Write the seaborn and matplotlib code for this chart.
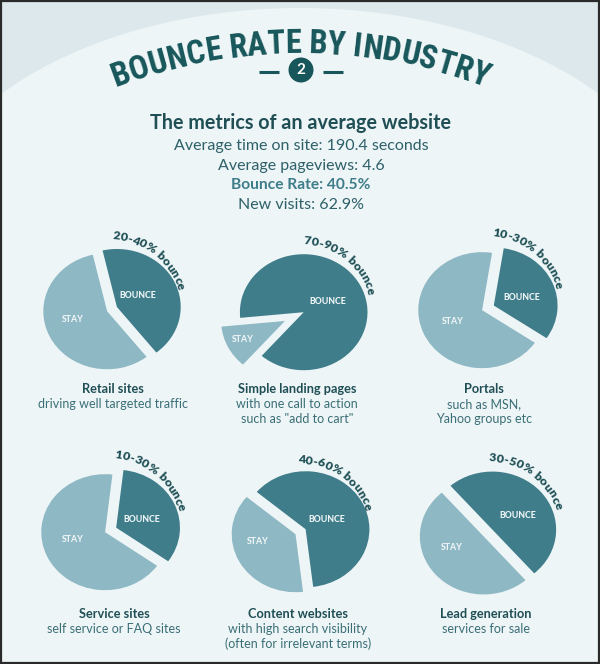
import os
import numpy as np
import pandas as pd
import seaborn as sns
import matplotlib
matplotlib.use("Agg")
import matplotlib.pyplot as plt
from matplotlib import font_manager as fm
from matplotlib.font_manager import FontProperties, findfont, get_font
from matplotlib.patches import Rectangle, Ellipse, Circle
from matplotlib.transforms import Affine2D

# ---------------- data ----------------
title = "BOUNCE RATE BY INDUSTRY"
section_number = "2"
metrics_heading = "The metrics of an average website"
metric_lines = ["Average time on site: 190.4 seconds", "Average pageviews: 4.6",
                "Bounce Rate: 40.5%", "New visits: 62.9%"]
industries = ["Retail sites", "Simple landing pages", "Portals",
              "Service sites", "Content websites", "Lead generation"]
descriptions = [["driving well targeted traffic"],
                ["with one call to action", 'such as "add to cart"'],
                ["such as MSN,", "Yahoo groups etc"],
                ["self service or FAQ sites"],
                ["with high search visibility", "(often for irrelevant terms)"],
                ["services for sale"]]
bounce_ranges = ["20-40% bounce", "70-90% bounce", "10-30% bounce",
                 "10-30% bounce", "40-60% bounce", "30-50% bounce"]
bounce_share = [0.43, 0.88, 0.32, 0.33, 0.62, 0.50]
stay_share = [0.57, 0.12, 0.68, 0.67, 0.38, 0.50]
slice_labels = ["BOUNCE", "STAY"]

# ---------------- layout / style ----------------
W, H, DPI = 600, 664, 100
PX = 72 / DPI
pie_centers = [(110, 310), (302, 313), (485, 309), (108, 531), (300, 532), (488, 533)]
start_angles = [103, 185.6, 81, 83.4, 140, 131]
explodes = [(0.12, 0.05), (0.03, 0.30), (0.15, 0.05), (0.14, 0.05), (0.10, 0.08), (0.09, 0.09)]
R_Y, SX = 58, 1.1
bounce_lbl_pos = [(138, 296), (328, 301), (522, 297), (142, 520), (327, 520), (518, 515)]
stay_lbl_pos = [(73, 320), (243, 340), (453, 321), (73, 539), (258, 542), (452, 547)]
arc_label = [(52, 70.5), (52, 68.5), (50, 73.5), (50, 73), (55, 68.5), (54, 71.5)]
caption_x = [113, 297, 484, 114, 298, 486]
caption_y0 = [389, 389, 389, 614, 614, 614]
caption_dy = 15

BOUNCE_C = "#3f7d8a"
STAY_C = "#8db8c4"
DARK = "#17565a"
TEXT_C = "#2d6068"
SUB_C = "#3a6e76"
BG_OUT = "#dce8ec"
BG_IN = "#eef5f7"

sns.set_theme(style="white")
palette = sns.color_palette([BOUNCE_C, STAY_C])
plt.rcParams["font.family"] = ["Lato", "DejaVu Sans"]


def pick_font(keys):
    files = [f.fname for f in fm.fontManager.ttflist]
    for k in keys:
        for fn in files:
            b = os.path.basename(fn).lower().replace(" ", "").replace("_", "").replace("-", "")
            if b in (k + ".ttf", k + ".otf"):
                return fn
    return None


COND = pick_font(["robotocondensedbold", "opensanscondensedbold", "opensanscondbold",
                  "liberationsansnarrowbold", "dejavusanscondensedbold"])


def cond_bold(size):
    if COND:
        return FontProperties(fname=COND, size=size)
    return FontProperties(family="Lato", weight="bold", size=size)


def advances(s, fp):
    fn = fp.get_file() or findfont(fp)
    f = get_font(fn)
    f.set_size(fp.get_size_in_points(), 72)
    out = []
    for ch in s:
        g = f.load_char(ord(ch))
        out.append(g.linearHoriAdvance / 65536 / PX)
    return np.array(out)


fig = plt.figure(figsize=(W / DPI, H / DPI), dpi=DPI)
fig.patch.set_facecolor(BG_OUT)
ax = fig.add_axes([0, 0, 1, 1])
ax.set_facecolor(BG_OUT)

# background arch
ax.add_patch(Ellipse((300, H - 250), 782, 484, facecolor=BG_IN, edgecolor="none", zorder=0))
ax.add_patch(Rectangle((0, 0), W, H - 250, facecolor=BG_IN, edgecolor="none", zorder=0))


def curved_text(s, cx, cy, r, center_deg, fp, color, z=6):
    adv = advances(s, fp)
    total = adv.sum()
    pos = np.cumsum(adv) - adv / 2
    th0 = np.deg2rad(center_deg) + (total / 2) / r
    for ch, p in zip(s, pos):
        if ch == " ":
            continue
        th = th0 - p / r
        x = cx + r * np.cos(th)
        y = (H - cy) + r * np.sin(th)
        ax.text(x, y, ch, fontproperties=fp, color=color, rotation=np.rad2deg(th) - 90,
                rotation_mode="anchor", ha="center", va="baseline", zorder=z)


# title arch
tfp = cond_bold(22)
tw = advances(title, tfp).sum()
tsize = min(26, 22 * 378 / tw)
tfp = cond_bold(tsize)
curved_text(title, 300, 567, 514, 90, tfp, DARK)

# section number badge
ax.add_patch(Circle((301, H - 70), 12.5, facecolor=DARK, edgecolor="none", zorder=5))
ax.text(301, H - 70, section_number, color="white", fontsize=11, fontweight="bold",
        ha="center", va="center", zorder=6)
ax.plot([259, 279], [H - 72, H - 72], color=DARK, lw=2.2, solid_capstyle="butt", zorder=5)
ax.plot([323, 343], [H - 72, H - 72], color=DARK, lw=2.2, solid_capstyle="butt", zorder=5)

# metrics block
ax.text(301, H - 123, metrics_heading, fontsize=14.2, fontweight="bold", color="#1f4f55",
        ha="center", va="center", zorder=6)
for i, line in enumerate(metric_lines):
    bold = line.startswith("Bounce")
    ax.text(301, H - (146 + 19.7 * i), line, fontsize=11.5 if not bold else 11.2,
            fontweight="bold" if bold else "normal",
            color="#3d7c89" if bold else TEXT_C, ha="center", va="center", zorder=6)

# pies
for k in range(6):
    cx, cy = pie_centers[k]
    cyd = H - cy
    wedges, _ = ax.pie([bounce_share[k], stay_share[k]], colors=palette,
                       startangle=start_angles[k], counterclock=False,
                       explode=[e * R_Y for e in explodes[k]], center=(cx, cyd),
                       radius=R_Y, frame=True,
                       wedgeprops=dict(linewidth=0, edgecolor="none"))
    tr = Affine2D().translate(-cx, -cyd).scale(SX, 1).translate(cx, cyd) + ax.transData
    for w in wedges:
        w.set_transform(tr)
        w.set_zorder(3)
    bx, by = bounce_lbl_pos[k]
    sxp, syp = stay_lbl_pos[k]
    ax.text(bx, H - by, slice_labels[0], color="#eef4f5", fontsize=6.3, fontweight="black",
            ha="center", va="center", zorder=6)
    ax.text(sxp, H - syp, slice_labels[1], color="#eef4f5", fontsize=6.3, fontweight="black",
            ha="center", va="center", zorder=6)
    # curved range label
    ang, rr = arc_label[k]
    lfp = FontProperties(family="Lato", weight="heavy", size=10)
    lw_ = advances(bounce_ranges[k], lfp).sum()
    lsize = float(np.clip(10 * 88 / lw_, 8, 11))
    lfp = FontProperties(family="Lato", weight="heavy", size=lsize)
    curved_text(bounce_ranges[k], cx, cy, rr, ang, lfp, "#1d4f55")
    # captions
    x0, y0 = caption_x[k], caption_y0[k]
    ax.text(x0, H - y0, industries[k], fontsize=9.2, fontweight="bold", color="#1f4f55",
            ha="center", va="center", zorder=6)
    for j, d in enumerate(descriptions[k]):
        ax.text(x0, H - (y0 + caption_dy * (j + 1)), d, fontsize=9, color=SUB_C,
                ha="center", va="center", zorder=6)

ax.set_xlim(0, W)
ax.set_ylim(0, H)
ax.set_aspect("auto")
ax.axis("off")

# frame
ax.add_patch(Rectangle((1, 1), W - 2, H - 2, facecolor="none", edgecolor="#2a2a2a",
                       lw=1.6, zorder=10))

fig.savefig("out.png", dpi=DPI, facecolor=fig.get_facecolor())
